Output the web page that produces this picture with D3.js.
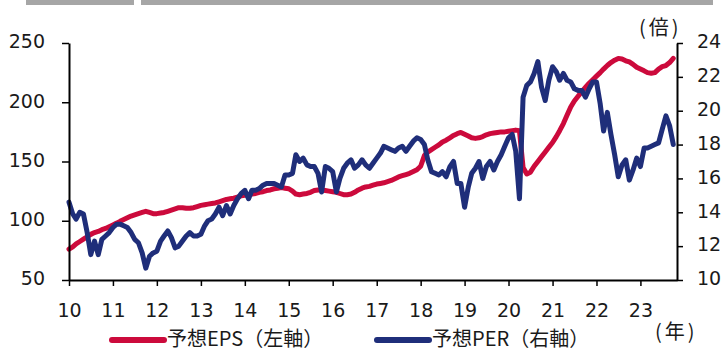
<!DOCTYPE html>
<html>
<head>
<meta charset="utf-8">
<script src="https://cdn.jsdelivr.net/npm/d3@7"></script>
<style>
  html, body { margin: 0; padding: 0; background: #fff; }
  svg { display: block; }
  .num { font-family: "DejaVu Sans", Verdana, sans-serif; font-size: 19px; fill: #1a1a1a; }
  .jp { font-family: "Noto Sans CJK JP", sans-serif; font-size: 20px; fill: #1a1a1a; }
  .unit { font-family: "Noto Sans CJK JP", sans-serif; font-size: 20px; fill: #1a1a1a; letter-spacing: 3px; }
</style>
</head>
<body>
<svg id="chart" width="724" height="351"></svg>
<script>
// Monthly series, Jan 2010 – Oct 2023
const epsForecast = [
  76, 78, 80.5, 82.5, 84.5, 86.5, 88.5, 90, 91, 92.5, 93.5, 95,              // 2010
  96.5, 98, 99.5, 101, 102.5, 104, 105, 106, 107, 108, 107, 106,             // 2011
  106, 106.5, 107, 108, 109, 110, 111, 111, 110.5, 110.5, 111, 112,          // 2012
  113, 113.5, 114, 114.5, 115, 116, 117, 118, 118.5, 119, 120, 121,          // 2013
  121.5, 122, 122.5, 123, 124, 124.5, 125.5, 126, 127, 127.5, 128, 127.5,    // 2014
  127, 125, 122.5, 122, 122.5, 123, 124, 125.5, 126, 126, 125.5, 125,        // 2015
  124.5, 124, 123, 122, 122, 122.5, 124, 126, 127.5, 128.5, 129, 130,        // 2016
  131, 131.5, 132, 133, 134, 135.5, 137, 138, 139, 140, 141.5, 143,          // 2017
  146, 155, 158, 160, 162, 164, 166.5, 168, 170, 172, 173.5, 174.5,          // 2018
  173, 171.5, 170, 169.5, 170, 171, 172.5, 173.5, 174, 174.5, 175, 175,      // 2019
  175.5, 176, 176.5, 176, 145, 139.5, 141, 146, 150, 154, 158, 162,          // 2020
  166, 171, 176, 182, 189, 196, 201, 205, 209, 212.5, 216, 219,              // 2021
  222, 225, 228, 231, 233.5, 235.5, 237, 236.5, 235, 234, 232, 229.5,        // 2022
  228, 226.5, 225, 224.5, 225, 228, 230, 231, 233.5, 237                     // 2023
];
const perForecast = [
  14.6, 13.9, 13.6, 14.0, 13.9, 12.8, 11.5, 12.3, 11.5, 12.4, 12.6, 12.8,   // 2010
  13.1, 13.3, 13.3, 13.2, 13.1, 12.8, 12.4, 12.2, 11.6, 10.7, 11.4, 11.6,   // 2011
  11.7, 12.3, 12.6, 12.9, 12.5, 11.9, 12.0, 12.3, 12.6, 12.8, 12.6, 12.6,   // 2012
  12.7, 13.2, 13.5, 13.6, 13.9, 14.3, 13.8, 14.4, 13.9, 14.4, 14.8, 15.1,   // 2013
  15.3, 14.8, 15.3, 15.3, 15.4, 15.6, 15.7, 15.7, 15.7, 15.6, 15.5, 16.2,   // 2014
  16.2, 16.3, 17.4, 17.0, 17.2, 16.8, 16.7, 16.7, 16.3, 15.2, 16.7, 16.6,   // 2015
  16.4, 15.2, 16.0, 16.6, 16.9, 17.1, 16.6, 16.8, 17.1, 16.8, 16.6, 16.9,   // 2016
  17.2, 17.5, 17.9, 17.8, 17.7, 17.6, 17.8, 17.9, 17.6, 17.9, 18.2, 18.4,   // 2017
  18.3, 18.0, 17.1, 16.4, 16.3, 16.2, 16.4, 16.1, 16.7, 17.0, 15.7, 15.7,   // 2018
  14.3, 15.5, 16.3, 16.6, 17.0, 16.0, 16.7, 17.0, 16.5, 17.0, 17.4, 17.9,   // 2019
  18.4, 18.6, 17.6, 14.8, 20.8, 21.5, 21.7, 22.2, 22.9, 21.4, 20.6, 21.8,   // 2020
  22.6, 22.3, 21.8, 22.2, 21.8, 21.7, 21.3, 21.2, 21.2, 20.8, 21.3, 21.7,   // 2021
  21.7, 20.4, 18.8, 19.9, 18.6, 17.4, 16.1, 16.8, 17.1, 15.9, 16.5, 17.2,   // 2022
  16.7, 17.8, 17.8, 17.9, 18.0, 18.1, 18.9, 19.7, 19.1, 18.0                // 2023
];
const yearTicks = d3.range(2010, 2024);
const epsTicks = [50, 100, 150, 200, 250];
const perTicks = [10, 12, 14, 16, 18, 20, 22, 24];
const legendItems = [
  { label: "予想EPS（左軸）", color: "#cc0a3c" },
  { label: "予想PER（右軸）", color: "#1f2e7a" }
];

const svg = d3.select("#chart");
const plotLeft = 69, plotRight = 677, plotTop = 43, plotBottom = 280;

const dates = epsForecast.map((_, i) => new Date(2010, i, 1));
const x = d3.scaleTime()
  .domain([new Date(2010, 0, 1), new Date(2023, 10, 1)])
  .range([plotLeft, plotRight]);
const yL = d3.scaleLinear().domain([50, 250]).range([plotBottom, plotTop]);
const yR = d3.scaleLinear().domain([10, 24]).range([plotBottom, plotTop]);

// header bars
svg.append("rect").attr("x", 26).attr("y", 0).attr("width", 108).attr("height", 5).attr("fill", "#a6a6a6");
svg.append("rect").attr("x", 141).attr("y", 0).attr("width", 572).attr("height", 5).attr("fill", "#a6a6a6");

// series
const lineEPS = d3.line().x((d, i) => x(dates[i])).y(d => yL(d));
const linePER = d3.line().x((d, i) => x(dates[i])).y(d => yR(d));

svg.append("path").datum(epsForecast)
  .attr("d", lineEPS).attr("fill", "none")
  .attr("stroke", legendItems[0].color).attr("stroke-width", 5)
  .attr("stroke-linejoin", "round").attr("stroke-linecap", "round");
svg.append("path").datum(perForecast)
  .attr("d", linePER).attr("fill", "none")
  .attr("stroke", legendItems[1].color).attr("stroke-width", 5)
  .attr("stroke-linejoin", "round").attr("stroke-linecap", "round");

// axes
function styleAxis(g) {
  g.selectAll("path.domain").attr("stroke", "#000").attr("stroke-width", 2);
  g.selectAll(".tick line").attr("stroke", "#000").attr("stroke-width", 1.5);
  g.selectAll(".tick text").attr("class", "num").attr("fill", null);
  g.attr("font-family", null).attr("font-size", null);
}

svg.append("g").attr("transform", `translate(${plotLeft},0)`)
  .call(d3.axisLeft(yL).tickValues(epsTicks).tickSize(7).tickSizeOuter(0).tickPadding(17))
  .call(styleAxis)
  .selectAll(".tick text").attr("dy", "0.25em");

svg.append("g").attr("transform", `translate(${plotRight},0)`)
  .call(d3.axisRight(yR).tickValues(perTicks).tickSize(6).tickSizeOuter(0).tickPadding(14))
  .call(styleAxis)
  .selectAll(".tick text").attr("dy", "0.25em");

svg.append("g").attr("transform", `translate(0,${plotBottom})`)
  .call(d3.axisBottom(x)
    .tickValues(yearTicks.map(yr => new Date(yr, 0, 1)))
    .tickFormat(d => String(d.getFullYear() % 100).padStart(2, "0"))
    .tickSize(6).tickSizeOuter(0).tickPadding(18))
  .call(styleAxis);

// unit labels
svg.append("text").attr("class", "unit").attr("x", 639).attr("y", 35).text("(倍)");
svg.append("text").attr("class", "unit").attr("x", 655).attr("y", 339).text("(年)");

// legend
const legendX = [112, 377];
legendItems.forEach((item, k) => {
  const g = svg.append("g").attr("transform", `translate(${legendX[k]},340)`);
  g.append("line").attr("x1", 0).attr("x2", 52).attr("y1", 0).attr("y2", 0)
    .attr("stroke", item.color).attr("stroke-width", 6).attr("stroke-linecap", "round");
  g.append("text").attr("class", "jp").attr("x", 55).attr("y", 0).attr("dy", "0.32em").text(item.label);
});
</script>
</body>
</html>
